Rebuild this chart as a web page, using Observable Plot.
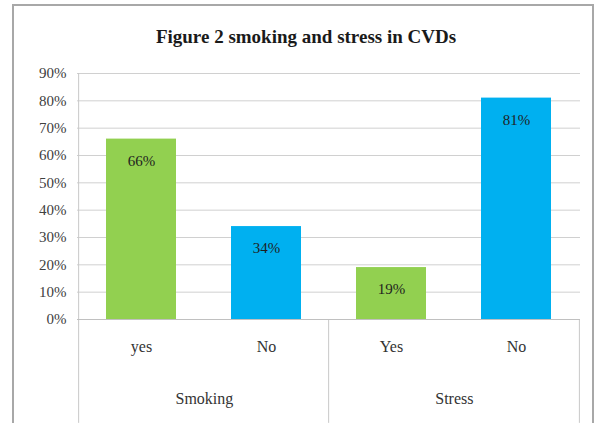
<!DOCTYPE html>
<html>
<head>
<meta charset="utf-8">
<script src="https://cdn.jsdelivr.net/npm/d3@7"></script>
<script src="https://cdn.jsdelivr.net/npm/@observablehq/plot@0.6"></script>
<style>
  html, body { margin: 0; padding: 0; background: #fff; }
  #wrap { position: relative; width: 597px; height: 430px; overflow: hidden; background: #fff; }
  #frame { position: absolute; left: 12px; top: 4px; width: 582px; height: 419px; box-sizing: border-box;
           border: 2px solid #a8a8a8; border-bottom: none; }
  #title { position: absolute; left: 0; top: 26px; width: 612px; text-align: center;
           font-family: "Liberation Serif", "Times New Roman", serif; font-weight: bold; font-size: 19px; color: #1a1a1a; }
  #chart { position: absolute; left: 0; top: 0; }
</style>
</head>
<body>
<div id="wrap">
  <div id="frame"></div>
  <div id="chart"></div>
  <div id="title">Figure 2 smoking and stress in CVDs</div>
</div>
<script>
const groups = ["Smoking", "Smoking", "Stress", "Stress"];
const answers = ["yes", "No", "Yes", "No"];
const values = [0.66, 0.34, 0.19, 0.81];
const colors = ["#92D050", "#00B0F0", "#92D050", "#00B0F0"];
const yTicks = [0, 0.1, 0.2, 0.3, 0.4, 0.5, 0.6, 0.7, 0.8, 0.9];
const groupNames = ["Smoking", "Stress"];

const data = answers.map((a, i) => ({
  key: groups[i] + " " + a, group: groups[i], answer: a, value: values[i], color: colors[i]
}));
const keys = data.map(d => d.key);

const width = 597, height = 430;
const marginLeft = 77, marginRight = 17, marginTop = 73, marginBottom = 111;
const step = (width - marginLeft - marginRight) / keys.length;
const font = "'Liberation Serif', 'Times New Roman', serif";
const yBottom = -0.38; // extent of the category-axis separators below zero

const groupData = groupNames.map(g => ({group: g, key: data.find(d => d.group === g).key}));
const leftEdges = [
  {key: keys[0], top: 0.9},
  {key: data.find(d => d.group === groupNames[1]).key, top: 0}
];
const rightEdges = [{key: keys[keys.length - 1], top: 0}];

const chart = Plot.plot({
  width, height, marginLeft, marginRight, marginTop, marginBottom,
  style: {fontFamily: font, fontSize: "15px", background: "transparent", color: "#404040"},
  x: {domain: keys, paddingInner: 0.44, paddingOuter: 0.22, axis: null},
  y: {domain: [0, 0.9], axis: null},
  marks: [
    Plot.gridY(yTicks, {stroke: "#d0d0d0", strokeOpacity: 1}),
    Plot.ruleX(leftEdges, {x: "key", y1: "top", y2: yBottom, dx: -step / 2, stroke: "#c8c8c8"}),
    Plot.ruleX(rightEdges, {x: "key", y1: "top", y2: yBottom, dx: step / 2, stroke: "#c8c8c8"}),
    Plot.axisY(yTicks, {tickSize: 0, tickPadding: 11, tickFormat: d => Math.round(d * 100) + "%",
      fontSize: 15, fontFamily: font, fill: "#404040", label: null}),
    Plot.barY(data, {x: "key", y: "value", fill: d => d.color}),
    Plot.ruleY([0], {stroke: "#c0c0c0"}),
    Plot.text(data, {x: "key", y: "value", text: d => Math.round(d.value * 100) + "%", dy: 22,
      fontSize: 15, fontFamily: font, fill: "#1f1f1f"}),
    Plot.text(data, {x: "key", text: "answer", frameAnchor: "bottom", dy: 32,
      fontSize: 16, fontFamily: font, fill: "#333"}),
    Plot.text(groupData, {x: "key", text: "group", frameAnchor: "bottom", dy: 84, dx: step / 2,
      fontSize: 16, fontFamily: font, fill: "#333"})
  ]
});
document.getElementById("chart").appendChild(chart);
</script>
</body>
</html>
